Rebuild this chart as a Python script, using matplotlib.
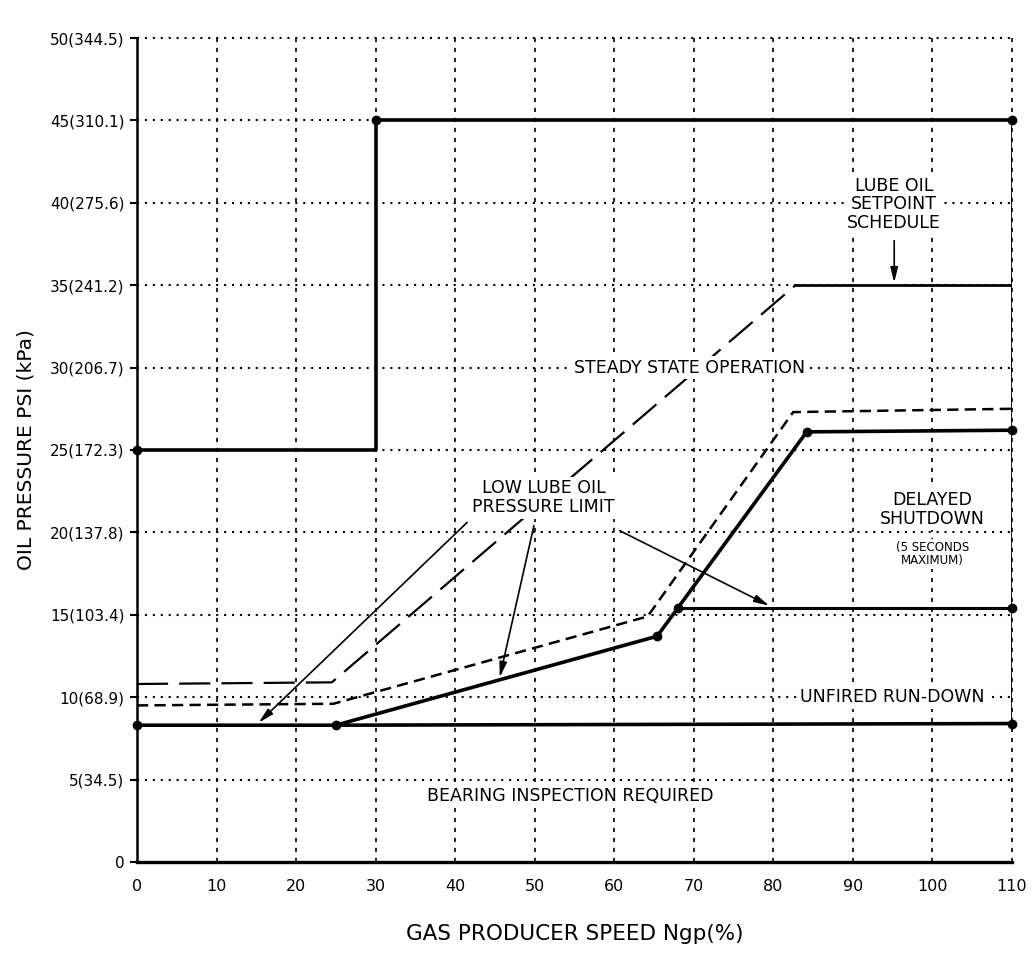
import matplotlib.pyplot as plt

# Fonte
plt.rcParams['font.family'] = ['DejaVu Sans']

# Eixos / rótulos
x_ticks = [0, 10, 20, 30, 40, 50, 60, 70, 80, 90, 100, 110]
y_ticks = [0, 5, 10, 15, 20, 25, 30, 35, 40, 45, 50]
y_labels = ['0', '5(34.5)', '10(68.9)', '15(103.4)', '20(137.8)', '25(172.3)',
            '30(206.7)', '35(241.2)', '40(275.6)', '45(310.1)', '50(344.5)']

# Limite superior (linha cheia grossa)
upper_x = [0, 30, 30, 110]
upper_y = [25, 25, 45, 45]

# Lube oil setpoint schedule (traço longo)
setpoint_x = [0, 24.5, 82.8, 110]
setpoint_y = [10.8, 10.9, 35, 35]

# Linha tracejada curta
short_x = [0, 24.7, 64.2, 82.5, 110]
short_y = [9.5, 9.6, 14.9, 27.3, 27.5]

# Low lube oil pressure limit (linha cheia grossa)
limit_x = [25, 65.4, 84.2, 110]
limit_y = [8.3, 13.7, 26.1, 26.2]

# Limite inferior do unfired run-down
rundown_x = [0, 25, 110]
rundown_y = [8.3, 8.3, 8.4]

# Limite do delayed shutdown
delayed_x = [68, 110]
delayed_y = [15.4, 15.4]

fig = plt.figure(figsize=(10.33, 9.72), dpi=100)
ax = fig.add_axes([0.1326, 0.1132, 0.847, 0.8477])

# Grade pontilhada
for y in y_ticks[1:]:
    ax.plot([0, 110], [y, y], color='black', lw=1.5, ls=(0, (1, 2.8)), zorder=1, clip_on=False)
for x in x_ticks[1:]:
    ax.plot([x, x], [0, 50], color='black', lw=1.2, ls=(0, (2.5, 3.5)), zorder=1, clip_on=False)

# Curvas
ax.plot(upper_x, upper_y, color='black', lw=2.6, zorder=3)
ax.plot(setpoint_x[:3], setpoint_y[:3], color='black', lw=1.6, ls=(0, (14, 5)), zorder=3)
ax.plot(setpoint_x[2:], setpoint_y[2:], color='black', lw=2.0, zorder=3)
ax.plot(short_x, short_y, color='black', lw=1.8, ls=(0, (4.5, 2.5)), zorder=3)
ax.plot(limit_x, limit_y, color='black', lw=2.6, zorder=3)
ax.plot(rundown_x, rundown_y, color='black', lw=2.6, zorder=3)
ax.plot(delayed_x, delayed_y, color='black', lw=2.2, zorder=3)

# Borda direita em 110 %
ax.plot([rundown_x[-1], upper_x[-1]], [rundown_y[-1], upper_y[-1]], color='black', lw=2, zorder=3)

# Marcadores
mk = dict(marker='o', color='black', ms=6, ls='none', zorder=4, clip_on=False)
ax.plot([upper_x[0], upper_x[2], upper_x[3]], [upper_y[0], upper_y[2], upper_y[3]], **mk)
ax.plot(limit_x, limit_y, **mk)
ax.plot([rundown_x[0], rundown_x[-1]], [rundown_y[0], rundown_y[-1]], **mk)
ax.plot(delayed_x, delayed_y, **mk)

# Textos
box = dict(boxstyle='square,pad=0.15', fc='white', ec='none')
txt = dict(ha='center', va='center', fontsize=12.5, zorder=5, bbox=box)
ax.text(95.2, 39.9, 'LUBE OIL\nSETPOINT\nSCHEDULE', linespacing=1.05, **txt)
ax.text(69.5, 30, 'STEADY STATE OPERATION', **txt)
ax.text(51.1, 22.1, 'LOW LUBE OIL\nPRESSURE LIMIT', linespacing=1.05, **txt)
ax.text(100, 21.4, 'DELAYED\nSHUTDOWN', linespacing=1.05, **txt)
ax.text(100, 18.7, '(5 SECONDS\nMAXIMUM)', ha='center', va='center', fontsize=8.5,
        linespacing=1.0, zorder=5, bbox=box)
ax.text(95, 10, 'UNFIRED RUN-DOWN', **txt)
ax.text(54.5, 4.0, 'BEARING INSPECTION REQUIRED', **txt)

# Setas
seta = dict(arrowstyle='-|>,head_length=0.9,head_width=0.22', color='black', lw=1.2,
            shrinkA=0, shrinkB=0)
ax.annotate('', xy=(95.2, 35.15), xytext=(95.2, 37.7), arrowprops=seta, zorder=6)
ax.annotate('', xy=(15.3, 8.45), xytext=(41.5, 20.6), arrowprops=seta, zorder=6)
ax.annotate('', xy=(45.6, 11.2), xytext=(49.9, 20.4), arrowprops=seta, zorder=6)
ax.annotate('', xy=(79.5, 15.55), xytext=(60.7, 20.1), arrowprops=seta, zorder=6)

# Eixos
ax.set_xlim(0, 110)
ax.set_ylim(0, 50)
for s in ['top', 'right']:
    ax.spines[s].set_visible(False)
ax.spines['left'].set_linewidth(1.8)
ax.spines['bottom'].set_linewidth(2.4)
ax.set_xticks(x_ticks)
ax.set_xticklabels([str(v) for v in x_ticks], fontsize=11.5)
ax.set_yticks(y_ticks)
ax.set_yticklabels(y_labels, fontsize=11)
ax.tick_params(axis='x', length=0, pad=12)
ax.tick_params(axis='y', length=5, width=1.5, pad=4)
ax.set_xlabel('GAS PRODUCER SPEED Ngp(%)', fontsize=15.5, labelpad=22)
ax.set_ylabel('OIL PRESSURE PSI (kPa)', fontsize=14.5, labelpad=10)

fig.savefig('out.png', dpi=100)
